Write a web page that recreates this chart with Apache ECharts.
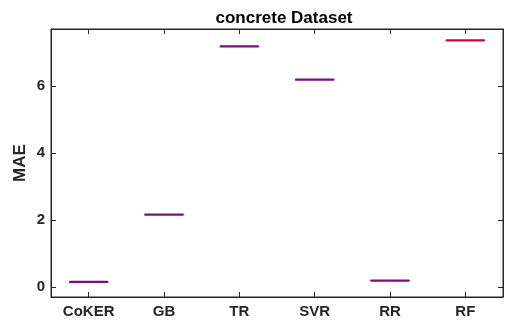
<!DOCTYPE html>
<html>
<head>
<meta charset="utf-8">
<script src="https://cdn.jsdelivr.net/npm/echarts@6/dist/echarts.min.js"></script>
<style>
html, body { margin: 0; padding: 0; background: #fff; }
#chart { width: 508px; height: 322px; }
</style>
</head>
<body>
<div id="chart"></div>
<script>
const models = ['CoKER', 'GB', 'TR', 'SVR', 'RR', 'RF']
// MAE per model: [min, q1, median, q3, max]
const maeBoxes = [
    [0.14, 0.145, 0.15, 0.155, 0.16],
    [2.15, 2.155, 2.16, 2.165, 2.17],
    [7.17, 7.175, 7.18, 7.185, 7.19],
    [6.18, 6.185, 6.19, 6.195, 6.2],
    [0.18, 0.185, 0.19, 0.195, 0.2],
    [7.35, 7.355, 7.36, 7.365, 7.37]
]
const yTicks = [0, 2, 4, 6]

const textColor = '#262626'
const font = 'Arial, "Liberation Sans", sans-serif'

const chartDom = document.getElementById('chart')
const myChart = echarts.init(chartDom)

const axisBase = {
    axisLine: { show: true, onZero: false, lineStyle: { color: textColor, width: 1 } },
    splitLine: { show: false }
}

myChart.setOption({
    animation: false,
    title: {
        text: 'concrete Dataset',
        left: 279,
        top: 5,
        textAlign: 'center',
        textStyle: { fontFamily: font, fontSize: 17, fontWeight: 'bold', color: '#000' }
    },
    grid: {
        left: 51, right: 5, top: 29, bottom: 25,
        show: true, borderColor: textColor, borderWidth: 1, backgroundColor: 'transparent'
    },
    xAxis: [
        {
            ...axisBase,
            type: 'category',
            data: models,
            position: 'bottom',
            axisTick: { show: true, inside: true, alignWithLabel: true, length: 5, lineStyle: { color: textColor } },
            axisLabel: { fontFamily: font, fontSize: 15, fontWeight: 'bold', color: textColor, margin: 7 }
        },
        {
            ...axisBase,
            type: 'category',
            data: models,
            position: 'top',
            axisTick: { show: true, inside: true, alignWithLabel: true, length: 5, lineStyle: { color: textColor } },
            axisLabel: { show: false }
        }
    ],
    yAxis: [
        {
            ...axisBase,
            type: 'value',
            min: -0.3,
            max: 7.7,
            position: 'left',
            name: 'MAE',
            nameLocation: 'middle',
            nameGap: 22,
            nameMoveOverlap: false,
            nameTextStyle: { fontFamily: font, fontSize: 17, fontWeight: 'bold', color: textColor },
            axisTick: { show: true, inside: true, length: 5, lineStyle: { color: textColor }, customValues: yTicks },
            axisLabel: {
                fontFamily: font, fontSize: 15, fontWeight: 'bold', color: textColor, margin: 6,
                customValues: yTicks
            }
        },
        {
            ...axisBase,
            type: 'value',
            min: -0.3,
            max: 7.7,
            position: 'right',
            axisTick: { show: true, inside: true, length: 5, lineStyle: { color: textColor }, customValues: yTicks },
            axisLabel: { show: false, customValues: yTicks }
        }
    ],
    series: [
        {
            type: 'boxplot',
            boxWidth: [38, 38],
            data: maeBoxes.map((d, i) => ({
                value: d,
                itemStyle: {
                    color: 'transparent',
                    borderColor: i === 5 ? '#d8003a' : '#820a82',
                    borderWidth: 1.5
                }
            }))
        }
    ]
})
</script>
</body>
</html>
